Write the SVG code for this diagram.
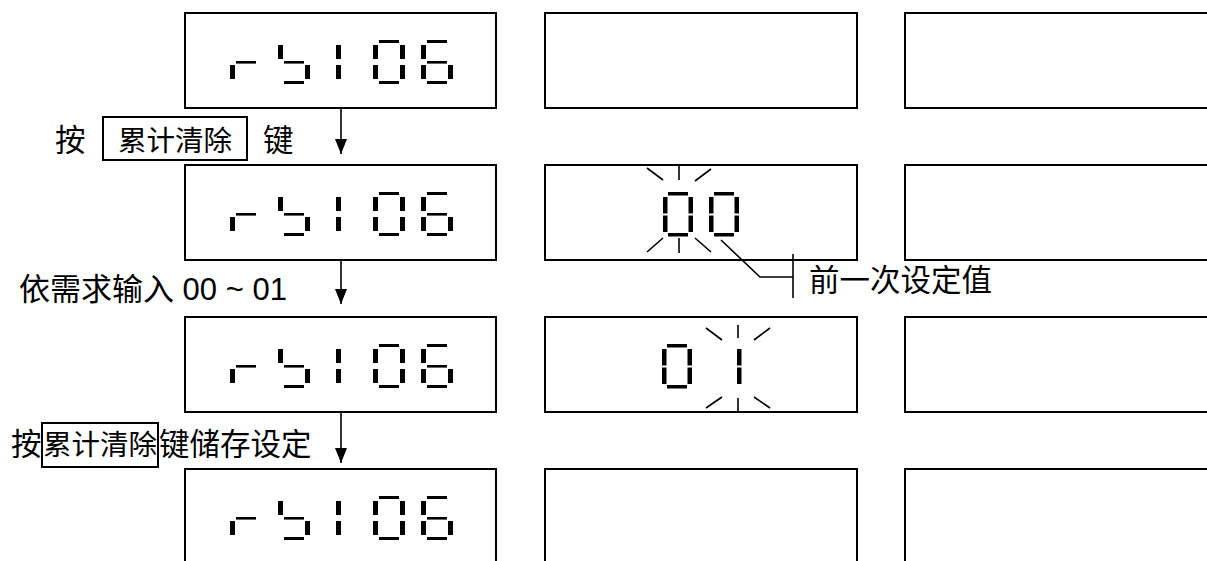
<svg xmlns="http://www.w3.org/2000/svg" xmlns:xlink="http://www.w3.org/1999/xlink" width="1207" height="561" viewBox="0 0 1207 561">
<style>
.box{fill:#fff;stroke:#000;stroke-width:2}
.seg{fill:#000}
.ray{stroke:#000;stroke-width:1.6;fill:none}
.conn{stroke:#000;stroke-width:1.6;fill:none}
.lbl{font-family:"Liberation Sans","Noto Sans CJK SC",sans-serif;font-size:30.5px;fill:#000}
.key{font-size:28.5px}
.keybox{fill:none;stroke:#000;stroke-width:2}
</style>
<defs>
<marker id="ah" markerUnits="userSpaceOnUse" markerWidth="15" markerHeight="12" refX="15" refY="6" orient="auto" viewBox="0 0 15 12">
<path d="M0,0 L15,6 L0,12 Z" fill="#000"/>
</marker>
<g id="d-r"><rect class="seg" x="6" y="21" width="20" height="2.6"/><rect class="seg" x="0" y="25" width="5" height="14"/></g>
<g id="d-b"><rect class="seg" x="0" y="5" width="5" height="14"/><rect class="seg" x="6" y="21" width="20" height="2.6"/><rect class="seg" x="27" y="25" width="5" height="14"/><rect class="seg" x="6" y="41" width="20" height="3"/></g>
<g id="d-1"><rect class="seg" x="27" y="5" width="5" height="14"/><rect class="seg" x="27" y="25" width="5" height="14"/></g>
<g id="d-0"><rect class="seg" x="6" y="0" width="20" height="3"/><rect class="seg" x="0" y="5" width="5" height="14"/><rect class="seg" x="27" y="5" width="5" height="14"/><rect class="seg" x="0" y="25" width="5" height="14"/><rect class="seg" x="27" y="25" width="5" height="14"/><rect class="seg" x="6" y="41" width="20" height="3"/></g>
<g id="d-6"><rect class="seg" x="6" y="0" width="20" height="3"/><rect class="seg" x="0" y="5" width="5" height="14"/><rect class="seg" x="6" y="21" width="20" height="2.6"/><rect class="seg" x="0" y="25" width="5" height="14"/><rect class="seg" x="27" y="25" width="5" height="14"/><rect class="seg" x="6" y="41" width="20" height="3"/></g>
<g id="rb106"><use xlink:href="#d-r" x="230"/><use xlink:href="#d-b" x="278"/><use xlink:href="#d-1" x="309"/><use xlink:href="#d-0" x="373"/><use xlink:href="#d-6" x="421"/></g>
<g id="e-0"><rect class="seg" x="5" y="0" width="20" height="3.5"/><rect class="seg" x="0" y="5" width="4.5" height="16.5"/><rect class="seg" x="25.5" y="5" width="4.5" height="16.5"/><rect class="seg" x="0" y="23.5" width="4.5" height="16.5"/><rect class="seg" x="25.5" y="23.5" width="4.5" height="16.5"/><rect class="seg" x="5" y="41" width="20" height="3.5"/></g>
<g id="e-1"><rect class="seg" x="25.5" y="5" width="4.5" height="16.5"/><rect class="seg" x="25.5" y="23.5" width="4.5" height="16.5"/></g>
</defs>
<rect width="1207" height="561" fill="#fff"/>

<g id="row1-col1"><rect class="box" x="185" y="13" width="311" height="95"/><use xlink:href="#rb106" x="0" y="40"/></g>
<g id="row1-col2"><rect class="box" x="545" y="13" width="312" height="95"/></g>
<g id="row1-col3"><rect class="box" x="905" y="13" width="320" height="95"/></g>

<g id="row2-col1"><rect class="box" x="185" y="165" width="311" height="95"/><use xlink:href="#rb106" x="0" y="192"/></g>
<g id="row2-col2"><rect class="box" x="545" y="165" width="312" height="95"/>
<use xlink:href="#e-0" x="663" y="192"/><use xlink:href="#e-0" x="709" y="192"/>
<path class="ray" d="M679,165 V180 M647,168 L663,180 M711,169 L695,181 M679,238 V253 M647,252 L663,238 M711,252 L695,238"/>
</g>
<g id="row2-col3"><rect class="box" x="905" y="165" width="320" height="95"/></g>

<g id="row3-col1"><rect class="box" x="185" y="317" width="311" height="95"/><use xlink:href="#rb106" x="0" y="344"/></g>
<g id="row3-col2"><rect class="box" x="545" y="317" width="312" height="95"/>
<use xlink:href="#e-0" x="662" y="344"/><use xlink:href="#e-1" x="711.5" y="344"/>
<path class="ray" d="M738,325 V338 M706,328 L722,340 M770,328 L754,340 M738,398 V412 M706,408 L722,397 M770,408 L754,397"/>
</g>
<g id="row3-col3"><rect class="box" x="905" y="317" width="320" height="95"/></g>

<g id="row4-col1"><rect class="box" x="185" y="469" width="311" height="95"/><use xlink:href="#rb106" x="0" y="496"/></g>
<g id="row4-col2"><rect class="box" x="545" y="469" width="312" height="95"/></g>
<g id="row4-col3"><rect class="box" x="905" y="469" width="320" height="95"/></g>

<g id="connectors">
<line class="conn" x1="341" y1="108" x2="341" y2="154" marker-end="url(#ah)"/>
<line class="conn" x1="341" y1="260" x2="341" y2="304" marker-end="url(#ah)"/>
<line class="conn" x1="341" y1="412" x2="341" y2="463" marker-end="url(#ah)"/>
<path class="conn" d="M721,240 L760,277 H793"/>
<line class="conn" x1="793" y1="254" x2="793" y2="298"/>
</g>

<g id="label1">
<text class="lbl" x="55" y="151">按</text>
<rect class="keybox" x="103" y="117" width="144" height="43"/>
<text class="lbl key" x="118" y="151">累计清除</text>
<text class="lbl" x="263" y="151">键</text>
</g>
<g id="label2"><text class="lbl" x="19" y="300" style="font-size:31px">依需求输入 00 ~ 01</text></g>
<g id="label3">
<text class="lbl" x="11" y="455">按</text>
<rect class="keybox" x="42" y="423" width="116" height="44"/>
<text class="lbl key" x="43" y="455">累计清除</text>
<text class="lbl" x="159" y="455">键储存设定</text>
</g>
<g id="label-prev"><text class="lbl" x="809" y="291">前一次设定值</text></g>
</svg>
